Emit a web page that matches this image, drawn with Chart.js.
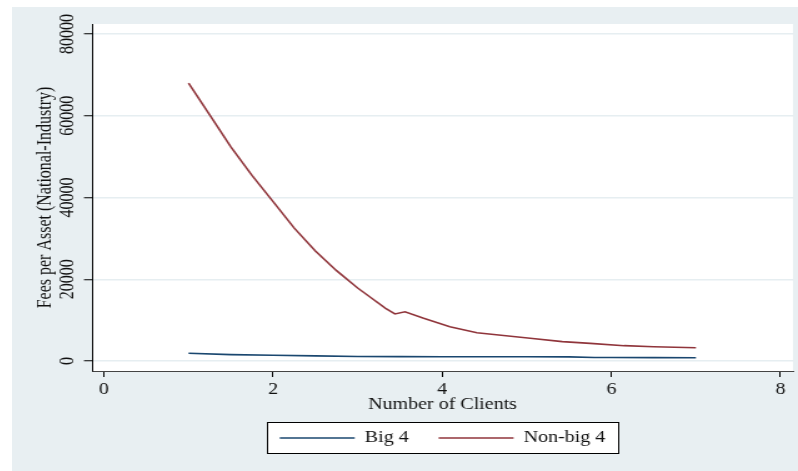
<!DOCTYPE html>
<html>
<head>
<meta charset="utf-8">
<title>Fees per Asset by Number of Clients</title>
<script src="https://cdn.jsdelivr.net/npm/chart.js@4.4.0/dist/chart.umd.min.js"></script>
<style>
  html, body { margin: 0; padding: 0; background: #ffffff; overflow: hidden; }
  /* the original graph is stretched sideways, so draw narrow and widen */
  #wrap { position: absolute; left: 12px; top: 7px; width: 629px; height: 464px; transform: scaleX(1.2496); transform-origin: 0 0; }
</style>
</head>
<body>
<div id="wrap"><canvas id="chart" width="629" height="464"></canvas></div>
<script>
// values
const big4X = [1, 1.5, 2, 2.5, 3, 3.5, 4, 4.5, 5, 5.5, 5.8, 6, 6.5, 7];
const big4Fees = [1880, 1550, 1400, 1250, 1100, 1070, 1050, 1050, 1040, 1000, 870, 850, 830, 780];

const nonBig4X = [1.0, 1.25, 1.5, 1.75, 2.0, 2.25, 2.5, 2.75, 3.0, 3.15, 3.33, 3.44, 3.56, 3.78, 4.09, 4.41, 5.04, 5.42, 5.75, 6.15, 6.5, 7.0];
const nonBig4Fees = [68000, 60200, 52400, 45400, 39000, 32500, 26900, 22100, 17850, 15600, 12900, 11500, 12050, 10440, 8400, 6930, 5550, 4730, 4320, 3750, 3500, 3250];

const xTicks = [0, 2, 4, 6, 8];
const yTicks = [0, 20000, 40000, 60000, 80000];

function toPoints(xs, ys) {
  return xs.map(function (x, i) {
    return { x: x, y: ys[i] };
  });
}

Chart.defaults.font.family = "'Liberation Serif', 'Times New Roman', serif";
Chart.defaults.font.size = 16;
Chart.defaults.color = "#111";

// grey graph region, white plot region and the framed legend
const stataBackground = {
  id: "stataBackground",
  beforeDraw: function (chart) {
    const ctx = chart.ctx;
    const area = chart.chartArea;
    ctx.save();
    ctx.fillStyle = "#e8eff2";
    ctx.fillRect(0, 0, chart.width, chart.height);
    ctx.fillStyle = "#ffffff";
    ctx.fillRect(area.left, area.top, area.right - area.left, area.bottom - area.top);

    const boxes = chart.legend.legendHitBoxes;
    if (boxes && boxes.length) {
      const first = boxes[0];
      const last = boxes[boxes.length - 1];
      const left = Math.round(first.left - 10);
      const right = Math.round(last.left + last.width + 10);
      const top = Math.round(first.top + first.height / 2 - 16);
      ctx.fillRect(left, top, right - left, 31);
      ctx.strokeStyle = "#000";
      ctx.lineWidth = 1;
      ctx.strokeRect(left + 0.5, top + 0.5, right - left, 31);
    }
    ctx.restore();
  }
};

new Chart(document.getElementById("chart"), {
  type: "line",
  data: {
    datasets: [
      {
        label: "Big 4",
        data: toPoints(big4X, big4Fees),
        borderColor: "#1a476f",
        backgroundColor: "#1a476f",
        borderWidth: 1.6,
        pointRadius: 0,
        tension: 0
      },
      {
        label: "Non-big 4",
        data: toPoints(nonBig4X, nonBig4Fees),
        borderColor: "#90353b",
        backgroundColor: "#90353b",
        borderWidth: 1.6,
        pointRadius: 0,
        tension: 0
      }
    ]
  },
  options: {
    responsive: false,
    animation: false,
    devicePixelRatio: 1,
    layout: { padding: { left: 0, right: 4, top: 17, bottom: 15 } },
    plugins: {
      legend: {
        position: "bottom",
        fullSize: false,
        labels: {
          usePointStyle: true,
          pointStyle: "line",
          pointStyleWidth: 60,
          padding: 24,
          color: "#111",
          font: { size: 16 }
        }
      },
      tooltip: { enabled: false }
    },
    scales: {
      x: {
        type: "linear",
        min: -0.142,
        max: 8.148,
        afterBuildTicks: function (scale) {
          scale.ticks = xTicks.map(function (v) { return { value: v }; });
        },
        afterFit: function (scale) { scale.height = 35; },
        grid: { drawOnChartArea: false, tickLength: 6, tickColor: "#000", tickWidth: 1 },
        border: { color: "#444", width: 1 },
        ticks: {
          padding: 3.4,
          maxRotation: 0,
          color: "#111",
          callback: function (v) { return String(v); }
        },
        title: {
          display: true,
          text: "Number of Clients",
          color: "#111",
          font: { size: 16, lineHeight: 1 },
          padding: { top: 0, bottom: -7 }
        }
      },
      y: {
        type: "linear",
        min: -2446,
        max: 82446,
        afterBuildTicks: function (scale) {
          scale.ticks = yTicks.map(function (v) { return { value: v }; });
        },
        afterFit: function (scale) { scale.width = 64; },
        grid: { color: "#e6eef1", lineWidth: 1.5, tickLength: 6.4, tickColor: "#000", tickWidth: 1 },
        border: { color: "#000", width: 1 },
        ticks: {
          minRotation: 90,
          maxRotation: 90,
          crossAlign: "center",
          padding: -7.2,
          color: "#111",
          callback: function (v) { return String(v); }
        },
        title: {
          display: true,
          text: "Fees per Asset (National-Industry)",
          color: "#111",
          font: { size: 16, lineHeight: 1 },
          padding: { top: 18.8, bottom: 0 }
        }
      }
    }
  },
  plugins: [stataBackground]
});
</script>
</body>
</html>
